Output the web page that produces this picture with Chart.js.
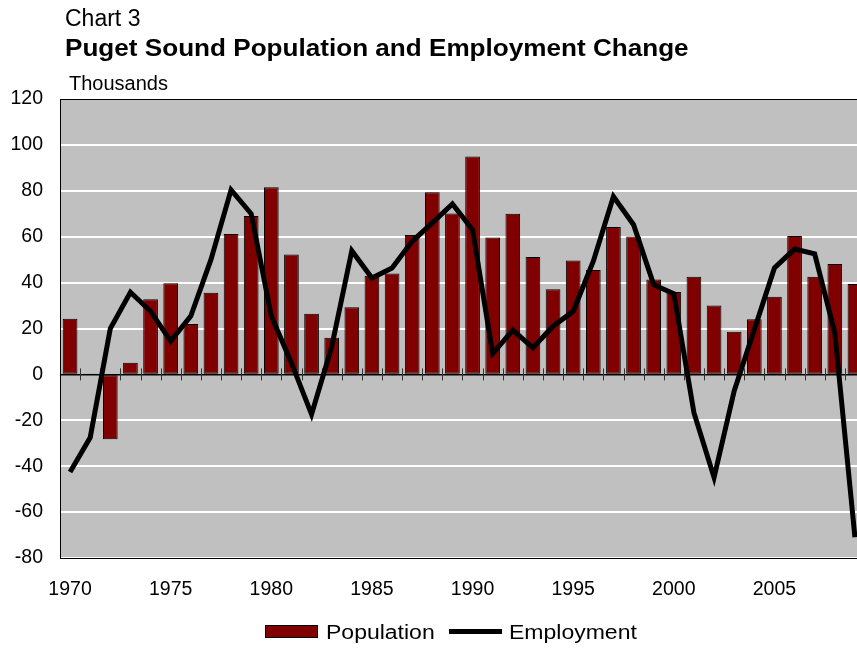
<!DOCTYPE html>
<html>
<head>
<meta charset="utf-8">
<script src="https://cdn.jsdelivr.net/npm/chart.js@4.4.0/dist/chart.umd.min.js"></script>
<style>
  html, body { margin: 0; padding: 0; background: #fff; overflow: hidden; }
  #wrap { position: relative; width: 865px; height: 648px; }
  #wrap canvas { position: absolute; left: 0; top: 0; }
  .txt { position: absolute; font-family: "Liberation Sans", Arial, sans-serif; color: #000; line-height: 1; white-space: nowrap; transform-origin: 0 0; }
  #num { left: 65px; top: 6.5px; font-size: 23px; }
  #title { left: 65px; top: 36.5px; font-size: 23px; font-weight: bold; transform: scaleX(1.135); }
  #units { left: 69px; top: 73px; font-size: 20px; }
  .key { position: absolute; box-sizing: border-box; }
  #keyPop { left: 265px; top: 625px; width: 53px; height: 13px; background: #800000; border: 1px solid #000; }
  #keyEmp { left: 449px; top: 629px; width: 53px; height: 5px; background: #000; }
  #txtPop { left: 326px; top: 621.5px; font-size: 20px; transform: scaleX(1.15); }
  #txtEmp { left: 509px; top: 621.5px; font-size: 20px; transform: scaleX(1.15); }
</style>
</head>
<body>
<div id="wrap">
  <canvas id="chart" width="865" height="648"></canvas>
  <div class="txt" id="num">Chart 3</div>
  <div class="txt" id="title">Puget Sound Population and Employment Change</div>
  <div class="txt" id="units">Thousands</div>
  <div class="key" id="keyPop"></div>
  <div class="txt" id="txtPop">Population</div>
  <div class="key" id="keyEmp"></div>
  <div class="txt" id="txtEmp">Employment</div>
</div>
<script>
const years = [1970, 1971, 1972, 1973, 1974, 1975, 1976, 1977, 1978, 1979,
               1980, 1981, 1982, 1983, 1984, 1985, 1986, 1987, 1988, 1989,
               1990, 1991, 1992, 1993, 1994, 1995, 1996, 1997, 1998, 1999,
               2000, 2001, 2002, 2003, 2004, 2005, 2006, 2007, 2008, 2009];

// annual change, thousands
const population = [24.3, 0.4, -28.3, 5.1, 32.7, 39.7, 22.0, 35.6, 61.2, 69.0,
                    81.6, 52.2, 26.4, 16.0, 29.3, 43.0, 44.0, 60.7, 79.4, 70.1,
                    94.9, 59.7, 70.0, 51.2, 37.1, 49.6, 45.5, 64.2, 60.1, 41.4,
                    35.9, 42.6, 30.0, 18.6, 24.0, 33.8, 60.3, 42.6, 48.1, 39.4];

const employment = [-42.5, -27.5, 20.0, 35.8, 27.5, 14.5, 25.4, 50.0, 80.4, 70.0,
                    25.4, 5.0, -17.4, 12.0, 53.9, 42.0, 46.4, 58.0, 66.0, 74.3,
                    63.0, 9.1, 19.3, 11.6, 21.0, 27.5, 49.3, 77.5, 65.2, 39.1,
                    35.2, -16.7, -44.9, -7.2, 19.5, 46.4, 54.6, 52.5, 18.1, -71.0];

const yMin = -80, yMax = 120, yStep = 20;

const FONT = '"Liberation Sans", Arial, sans-serif';

// grey plot area
const plotBg = {
  id: 'plotBg',
  beforeDraw(chart) {
    const { ctx, chartArea: a } = chart;
    ctx.save();
    ctx.fillStyle = '#c0c0c0';
    ctx.fillRect(a.left, a.top, a.right - a.left, a.bottom - a.top);
    ctx.restore();
  }
};

// short tick marks crossing the zero line between categories
const zeroTicks = {
  id: 'zeroTicks',
  beforeDatasetsDraw(chart) {
    const { ctx, chartArea: a, scales: { x, y } } = chart;
    const y0 = y.getPixelForValue(0);
    const step = (a.right - a.left) / years.length;
    ctx.save();
    ctx.strokeStyle = '#333';
    ctx.lineWidth = 1;
    for (let i = 1; i < years.length; i++) {
      const px = Math.round(x.getPixelForValue(i) - step / 2) + 0.5;
      ctx.beginPath();
      ctx.moveTo(px, y0 - 6);
      ctx.lineTo(px, y0 + 6);
      ctx.stroke();
    }
    ctx.restore();
  }
};

new Chart(document.getElementById('chart'), {
  data: {
    labels: years,
    datasets: [
      {
        type: 'line',
        label: 'Employment',
        data: employment,
        borderColor: '#000',
        borderWidth: 5,
        pointRadius: 0,
        tension: 0,
        order: 0
      },
      {
        type: 'bar',
        label: 'Population',
        data: population,
        backgroundColor: '#800000',
        borderColor: '#000',
        borderWidth: 1,
        borderSkipped: false,
        categoryPercentage: 1,
        barPercentage: 0.73,
        order: 1
      }
    ]
  },
  options: {
    responsive: false,
    animation: false,
    layout: { padding: { top: 99, left: 0, right: 0, bottom: 0 } },
    plugins: {
      tooltip: { enabled: false },
      legend: { display: false }
    },
    scales: {
      x: {
        type: 'category',
        offset: true,
        afterFit: s => { s.height = 90; s.paddingLeft = 0; s.paddingRight = 0; },
        grid: { display: false, drawTicks: false },
        border: { display: true, color: '#000', width: 1 },
        ticks: {
          autoSkip: false,
          maxRotation: 0,
          padding: 20,
          color: '#000',
          font: { family: FONT, size: 19.5 },
          callback: (v, i) => (years[i] % 5 === 0 ? String(years[i]) : '')
        }
      },
      y: {
        min: yMin,
        max: yMax,
        afterFit: s => { s.width = 60; },
        grid: {
          drawTicks: false,
          color: c => (c.tick.value === 0 || c.tick.value === yMax ? '#000' : '#fff'),
          lineWidth: c => (c.tick.value === 0 ? 1.5 : c.tick.value === yMax ? 1 : 2)
        },
        border: { display: true, color: '#000', width: 1 },
        ticks: {
          stepSize: yStep,
          padding: 17,
          color: '#000',
          font: { family: FONT, size: 19.5 }
        }
      }
    }
  },
  plugins: [plotBg, zeroTicks]
});
</script>
</body>
</html>
